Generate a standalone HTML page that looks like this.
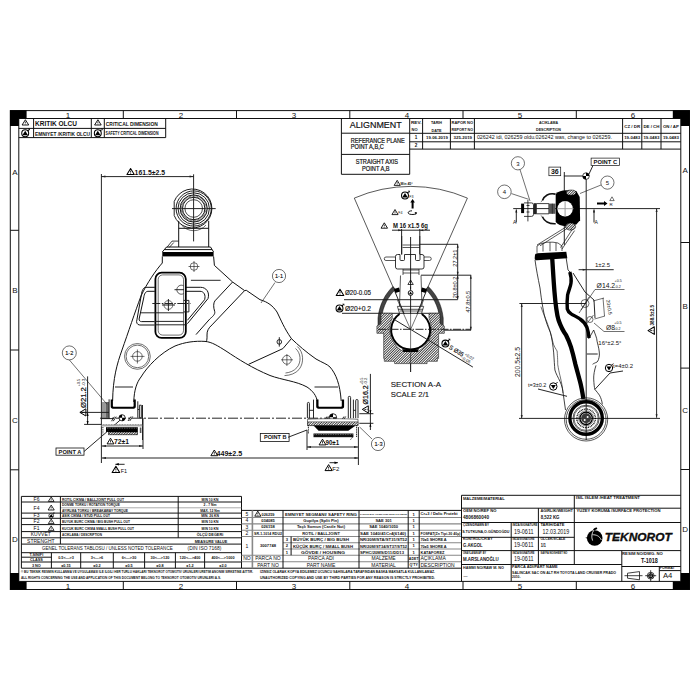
<!DOCTYPE html>
<html><head><meta charset="utf-8">
<style>
html,body{margin:0;padding:0;background:#fff;width:700px;height:700px;overflow:hidden}
svg{position:absolute;left:0;top:0;display:block}
text{font-family:"Liberation Sans",sans-serif;fill:#111}
.l,.t,.g{fill:none}
.l:not([stroke]){stroke:#111}.l:not([stroke-width]){stroke-width:1.0}
.t:not([stroke]){stroke:#1a1a1a}.t:not([stroke-width]){stroke-width:0.95}
.g:not([stroke]){stroke:#888}.g:not([stroke-width]){stroke-width:0.9}
.k{fill:#000}
</style></head><body>
<svg width="700" height="700" viewBox="0 0 700 700">
<defs>
<g id="saf"><circle r="3.3" fill="#fff" stroke="#000" stroke-width="1"/><path d="M-2.7,1.9L0,-2.5L2.7,1.9Z" fill="#000"/><path d="M2.2,-2.2L3.4,-3.4" stroke="#000" stroke-width="1.1"/><path d="M2.6,-4.6L4.6,-4.6L4.6,-2.6Z" fill="#000"/></g>
<g id="tri"><path d="M0,-6L-3.6,0H3.6Z" fill="none" stroke="#000" stroke-width="1" stroke-linejoin="round"/><path d="M0,-3.9V-2" stroke="#000" stroke-width="0.8"/><path d="M0,-1.4V-0.8" stroke="#000" stroke-width="0.8"/></g>
</defs>
<!-- FRAME -->
<g id="frame">
<rect x="10.3" y="110.6" width="679.2" height="478.9" class="l" stroke-width="1"/>
<rect x="18.8" y="118.5" width="662" height="462.9" class="l" stroke-width="1"/>
<path class="k" d="M10,110.3h16.6v8.2h-7.7v7.6h-8.9z"/>
<path class="k" d="M689.8,110.3h-17v8.2h8v7.6h9z"/>
<path class="k" d="M10,589.8h16.6v-8.4h-7.7v-8.5h-8.9z"/>
<path class="k" d="M689.8,589.8h-17v-8.4h8v-8.5h9z"/>
<path class="l" d="M123.3,110.6v7.9M236.5,110.6v7.9M349.8,110.6v7.9M463,110.6v7.9M576.3,110.6v7.9"/>
<path class="l" d="M123.3,581.4v8.1M236.5,581.4v8.1M349.8,581.4v8.1M463,581.4v8.1M576.3,581.4v8.1"/>
<path class="l" d="M10.3,230.3h8.5M10.3,350h8.5M10.3,469.8h8.5"/>
<path class="l" d="M680.8,242.5h8.7M680.8,368.1h8.7M680.8,469.5h8.7"/>
<g font-size="8" text-anchor="middle">
<text x="68" y="117.6">1</text><text x="181" y="117.6">2</text><text x="294" y="117.6">3</text>
<text x="407" y="117.6">4</text><text x="520" y="117.6">5</text><text x="633" y="117.6">6</text>
<text x="68" y="588.8">1</text><text x="181" y="588.8">2</text><text x="294" y="588.8">3</text>
<text x="407" y="588.8">4</text><text x="520" y="588.8">5</text><text x="633" y="588.8">6</text>
<text x="14.8" y="174.9">A</text><text x="14.8" y="292.9">B</text><text x="15" y="422.9">C</text><text x="14.8" y="541.9">D</text>
<text x="685.2" y="173.3">A</text><text x="685.2" y="308.9">B</text><text x="685.2" y="413.3">C</text><text x="685.2" y="532.4">D</text>
</g>
</g>

<!-- CRITICAL TABLE -->
<g id="crit">
<path class="l" d="M18.8,128.4H165.7M18.8,137.6H165.7M165.7,118.5V137.6M33.6,118.5V137.6M91.3,118.5V137.6M104.3,118.5V137.6"/>
<use href="#tri" transform="translate(25.4,125) scale(0.92,0.88)"/>
<use href="#tri" transform="translate(97.9,125) scale(0.92,0.88)"/>
<use href="#saf" transform="translate(25.2,133.3) scale(1.05)"/>
<use href="#saf" transform="translate(97.8,133.3) scale(1.05)"/>
<text x="35" y="125.6" font-size="6.6" font-weight="bold" textLength="42" lengthAdjust="spacingAndGlyphs">KRITIK OLCU</text>
<text x="35" y="135.6" font-size="5.8" font-weight="bold" textLength="55" lengthAdjust="spacingAndGlyphs">EMNIYET /KRITIK OLCU</text>
<text x="105.8" y="125.8" font-size="6" font-weight="bold" textLength="52" lengthAdjust="spacingAndGlyphs">CRITICAL DIMENSION</text>
<text x="105.5" y="135.4" font-size="5.4" font-weight="bold" textLength="53" lengthAdjust="spacingAndGlyphs">SAFETY CRITICAL DIMENSION</text>
</g>

<!-- ALIGNMENT -->
<g id="align">
<path class="l" d="M341.4,118.5V174.3H409.7V118.5M341.4,133.2H409.7M341.4,154.4H409.7"/>
<text x="349.7" y="128.3" font-size="9.9" textLength="52" lengthAdjust="spacingAndGlyphs" stroke="#111" stroke-width="0.2">ALIGNMENT</text>
<text x="350.8" y="142.6" font-size="6.4" textLength="54" lengthAdjust="spacingAndGlyphs" stroke="#111" stroke-width="0.2">REFERANCE PLANE</text>
<text x="350.8" y="149.2" font-size="6.4" textLength="33" lengthAdjust="spacingAndGlyphs" stroke="#111" stroke-width="0.2">POINT A,B,C</text>
<text x="355.7" y="163.7" font-size="6.4" textLength="42.4" lengthAdjust="spacingAndGlyphs" stroke="#111" stroke-width="0.2">STRAIGHT AXIS</text>
<text x="362.1" y="170.5" font-size="6.4" textLength="27.5" lengthAdjust="spacingAndGlyphs" stroke="#111" stroke-width="0.2">POINT  A,B</text>
</g>

<!-- REVISION TABLE -->
<g id="rev">
<path class="l" d="M409.7,133.3H680.8M409.7,141.8H680.8M409.7,149.1H680.8M422.6,118.5V149.1M450.4,118.5V149.1M474.4,118.5V149.1M622.6,118.5V149.1M641.8,118.5V149.1M661,118.5V149.1"/>
<g font-size="4" font-weight="bold" text-anchor="middle">
<text x="416.2" y="123.8" textLength="10.5" lengthAdjust="spacingAndGlyphs">REV.</text><text x="414.5" y="130.8">NO</text>
<text x="436.5" y="124.2" textLength="11" lengthAdjust="spacingAndGlyphs">TARIH</text><text x="436.5" y="131.6" textLength="10" lengthAdjust="spacingAndGlyphs">DATE</text>
<text x="462.3" y="123.8" textLength="21.5" lengthAdjust="spacingAndGlyphs">RAPOR NO</text><text x="462.3" y="130.8" textLength="21.5" lengthAdjust="spacingAndGlyphs">REPORT NO</text>
<text x="548.5" y="123.8" textLength="19" lengthAdjust="spacingAndGlyphs">ACIKLAMA</text><text x="548.5" y="130.8" textLength="25" lengthAdjust="spacingAndGlyphs">DESCRIPTION</text>
<text x="632.2" y="127.8" textLength="16" lengthAdjust="spacingAndGlyphs">CZ / DR</text><text x="651.4" y="127.8" textLength="16" lengthAdjust="spacingAndGlyphs">DE / CH</text><text x="670.9" y="127.8" textLength="16" lengthAdjust="spacingAndGlyphs">ON / AP</text>
<text x="416" y="138.6" font-size="4.6">1</text><text x="416" y="147.3" font-size="4.6">2</text>
<text x="437" y="138.6" textLength="21.8" lengthAdjust="spacingAndGlyphs">19.06.2019</text><text x="462.8" y="138.6" textLength="18.5" lengthAdjust="spacingAndGlyphs">325-2019</text>
<text x="632.2" y="138.8" textLength="16" lengthAdjust="spacingAndGlyphs">19-0483</text><text x="651.4" y="138.8" textLength="16" lengthAdjust="spacingAndGlyphs">19-0483</text><text x="670.9" y="138.8" textLength="16" lengthAdjust="spacingAndGlyphs">19-0483</text>
</g>
<text x="476.9" y="139.3" font-size="5" textLength="135" lengthAdjust="spacingAndGlyphs">026242 idi, 026259 oldu.026242 was, change to 026259.</text>
</g>

<!-- STRENGTH TABLE -->
<g id="str">
<path class="l" d="M21.4,496.4H241.5V568.2M21.4,496.4V568.2H241.5"/>
<path class="l" d="M21.4,502H241.5M21.4,513.1H241.5M21.4,518.3H241.5M21.4,524.6H241.5M21.4,531.6H241.5M21.4,537.8H241.5M21.4,544.1H241.5M21.4,552.7H241.5M21.4,562H241.5"/>
<path class="g" stroke-width="0.7" d="M60.4,507.8H241.5"/>
<path class="l" d="M60.4,496.4V544.1M178.2,496.4V537.8M21.4,557.2H51.4M51.4,552.7V568.2M80.7,552.7V568.2M113.3,552.7V568.2M144.6,552.7V568.2M175.4,552.7V568.2M204.6,552.7V568.2"/>
<g font-size="5" text-anchor="middle">
<text x="36.5" y="501.3">F6</text><text x="36.5" y="509.5">F4</text><text x="36.5" y="517.4">F3</text>
<text x="36.5" y="523.2">F2</text><text x="36.5" y="530">F1</text>
<text x="40.8" y="536.4">KUVVET</text><text x="40.8" y="542.6">STRENGHT</text>
</g>
<g class="l" stroke-width="1.1">

</g>
<use href="#saf" transform="translate(51.2,515.7) scale(0.72)"/>
<use href="#tri" transform="translate(51.2,501.4) scale(0.8,0.75)"/>
<use href="#tri" transform="translate(51.2,510) scale(0.85,0.82)"/>
<use href="#tri" transform="translate(51.2,523.6) scale(0.8,0.75)"/>
<use href="#tri" transform="translate(51.2,530.4) scale(0.8,0.75)"/>
<g font-size="3.4" font-weight="bold">
<text x="62" y="500.8" textLength="62" lengthAdjust="spacingAndGlyphs">ROTIL CIKMA / BALLJOINT PULL OUT</text>
<text x="62" y="506.3" textLength="58" lengthAdjust="spacingAndGlyphs">DONME TORKU / ROTATION TORQUE</text>
<text x="62" y="511.8" textLength="66" lengthAdjust="spacingAndGlyphs">AYIRLMA TORKU / BREAKAWAY TORQUE</text>
<text x="62" y="516.9" textLength="48" lengthAdjust="spacingAndGlyphs">ASIK CIKMA / STUD PULL OUT</text>
<text x="62" y="522.7" textLength="68" lengthAdjust="spacingAndGlyphs">BUYUK BURC CIKMA / BIG BUSH PULL OUT</text>
<text x="62" y="529.6" textLength="72" lengthAdjust="spacingAndGlyphs">KUCUK BURC CIKMA SMALL BUSH PULL OUT</text>
<text x="62" y="536" textLength="40" lengthAdjust="spacingAndGlyphs">ACIKLAMA / DESCRIPTION</text>
</g>
<g font-size="3.4" font-weight="bold" text-anchor="middle">
<text x="210" y="500.8">MIN 10 KN</text><text x="210" y="506.3">2 - 7 Nm</text><text x="210" y="511.8">MAX. 12 Nm</text>
<text x="210" y="516.9">MIN. 26 KN</text><text x="210" y="522.7">MIN 10 KN</text><text x="210" y="529.6">MIN 10 KN</text>
<text x="210" y="536.2" font-size="3.8">ÖLÇÜ DEĞERİ</text><text x="211" y="542.6" font-size="3.8">MEASURE VALUE</text>
</g>
<text x="42" y="550.2" font-size="5.6" textLength="130.7" lengthAdjust="spacingAndGlyphs">GENEL TOLERANS TABLOSU / UNLESS NOTED TOLERANCE</text>
<text x="187.5" y="550.2" font-size="5.6" textLength="34" lengthAdjust="spacingAndGlyphs">(DIN ISO 7168)</text>
<g font-size="3.8" font-weight="bold" text-anchor="middle">
<text x="36.4" y="556">T.SINIFI</text><text x="36.4" y="561">CLASS</text><text x="36.4" y="566.8">3 NO</text>
<text x="66" y="558.7">0.5&lt;—&gt;3</text><text x="97" y="558.7">3&lt;—&gt;6</text><text x="129" y="558.7">6&lt;—&gt;30</text>
<text x="160" y="558.7">30&lt;—&gt;120</text><text x="190" y="558.7">120&lt;—&gt;400</text><text x="223" y="558.7">400&lt;—&gt;1000</text>
<text x="66" y="566.8">±0.15</text><text x="97" y="566.8">±0.2</text><text x="129" y="566.8">±0.5</text>
<text x="160" y="566.8">±0.8</text><text x="190" y="566.8">±1.2</text><text x="223" y="566.8">±2.0</text>
</g>
<text x="21" y="573.3" font-size="3.3" font-weight="bold" textLength="232" lengthAdjust="spacingAndGlyphs">© BU TEKNIK RESMIN KULLANMA VE UYGULAMASI ILE ILGILI HER TURLU HAKLARI TEKNOROT OTOMOTIV URUNLERI URETIM ANONIM SIRKETINE AITTIR.</text>
<text x="21" y="578.9" font-size="3.3" font-weight="bold" textLength="200" lengthAdjust="spacingAndGlyphs">ALL RIGHTS CONCERNING THE USE AND APPLICATION OF THIS DOCUMENT BELONG TO TEKNOROT OTOMOTIV URUNLERI A.S.</text>
<text x="260" y="573.3" font-size="3.3" font-weight="bold" textLength="175" lengthAdjust="spacingAndGlyphs">IZINSIZ OLARAK KOPYA EDILEMEZ UCUNCU SAHISLARA TARAFINDAN BASKA MAKSATLA KULLANILAMAZ.</text>
<text x="260" y="578.9" font-size="3.3" font-weight="bold" textLength="175" lengthAdjust="spacingAndGlyphs">UNAUTHORIZED COPYING AND USE BY THIRD PARTIES FOR ANY REASON IS STRICTLY PROHIBITED.</text>
</g>
<!-- PARTS LIST -->
<g id="parts">
<path class="l" d="M241.5,510.4H461.5M241.5,568.2H461.5"/>
<path class="g" stroke-width="1.1" d="M241.5,517.5H461.5M241.5,523.9H461.5M241.5,530.2H461.5M241.5,536.5H461.5M283,542.8H461.5M283,549H461.5M241.5,555.2H461.5M241.5,561.7H461.5"/>
<path class="g" stroke-width="1.6" d="M252.4,510.4V568.2"/><path class="l" d="M283,510.4V555.2M291.1,536.5V555.2M359,510.4V568.2M408.2,510.4V568.2M419.2,510.4V568.2M283,555.2V568.2"/>
<g font-size="4.1" font-weight="bold" text-anchor="middle">
<text x="247" y="516" font-weight="normal" font-size="5">5</text><text x="247" y="522.4" font-weight="normal" font-size="5">4</text><text x="247" y="528.8" font-weight="normal" font-size="5">3</text><text x="247" y="535.1" font-weight="normal" font-size="5">2</text>
<text x="247" y="547.8" font-weight="normal" font-size="5">1</text><text x="247" y="560.4" font-weight="normal" font-size="5">NO</text>
<text x="268" y="515.5" textLength="13" lengthAdjust="spacingAndGlyphs">026259</text><text x="268" y="521.9">034085</text><text x="268" y="528.3">026158</text>
<text x="268" y="534.6" textLength="28" lengthAdjust="spacingAndGlyphs">SR-1-1014 RDU2</text>
<text x="268" y="547.4">3007748</text><text x="268" y="560.4" font-weight="normal" font-size="5">PARCA NO</text><text x="268" y="566.6" font-weight="normal" font-size="5">PART NO</text>
<text x="321" y="515.5" textLength="72" lengthAdjust="spacingAndGlyphs">EMNIYET SEGMANI/  SAFETY RING</text>
<text x="321" y="521.9">Gupilya (Split Pin)</text><text x="321" y="528.3">Taçlı Somun (Castle Nut)</text>
<text x="321" y="534.9" font-size="4">ROTIL / BALLJOINT</text>
<text x="287" y="541">3</text><text x="287" y="547.4">2</text><text x="287" y="553.6">1</text>
<text x="321" y="560.4" font-weight="normal" font-size="5">PARCA ADI</text><text x="321" y="566.6" font-weight="normal" font-size="5">PART NAME</text>
<text x="383.6" y="521.9">SAE 301</text><text x="383.6" y="528.3">SAE 1040/1050</text>
<text x="383.6" y="560.4" font-weight="normal" font-size="5">MALZEME</text><text x="383.6" y="566.6" font-weight="normal" font-size="5">MATERIAL</text>
<text x="413.7" y="515.5">1</text><text x="413.7" y="521.9">1</text><text x="413.7" y="528.3">1</text><text x="413.7" y="534.6">1</text>
<text x="413.7" y="541">1</text><text x="413.7" y="547.4">1</text><text x="413.7" y="553.6">1</text>
<text x="413.7" y="560" font-size="3.6">ADET</text><text x="413.7" y="566.4" font-size="3.6">Q'TY</text>
</g>
<use href="#tri" transform="translate(257.8,516.2) scale(0.85)"/>
<g font-size="3.9" font-weight="bold">
<text x="293" y="541.2" textLength="56" lengthAdjust="spacingAndGlyphs">BÜYÜK BURÇ /  BIG BUSH</text>
<text x="293" y="547.5" textLength="60" lengthAdjust="spacingAndGlyphs">KÜÇÜK BURÇ /  SMALL BUSH</text>
<text x="301" y="553.7" textLength="44" lengthAdjust="spacingAndGlyphs">GÖVDE / HOUSING</text>
<text x="360" y="515.2" font-size="2" textLength="47" lengthAdjust="spacingAndGlyphs">SAE1070 BHN 470-520 Cr/Zn 60000 Cr0.3 80000</text>
<text x="360" y="534.9" textLength="46" lengthAdjust="spacingAndGlyphs">SAE 1040/41Cr4(6140)</text>
<text x="360" y="541.2" textLength="47" lengthAdjust="spacingAndGlyphs">NR/20M/STA/ST31/ST52</text>
<text x="360" y="547.5" textLength="47" lengthAdjust="spacingAndGlyphs">NR/20M/ST34/ST37/ST52</text>
<text x="360" y="553.7" textLength="44" lengthAdjust="spacingAndGlyphs">SPHC/20MS/D11/DD13</text>
<text x="420.5" y="515.3" textLength="37" lengthAdjust="spacingAndGlyphs">Cr+3 / Dalic Protekt</text>
<text x="420.5" y="534.6" font-size="2.8" textLength="40" lengthAdjust="spacingAndGlyphs">FOSFAT(Zn Tipi-30 40µ)</text>
<text x="420.5" y="541.2" textLength="26">70±5 SHORE A</text>
<text x="420.5" y="547.5" textLength="26">70±5 SHORE A</text>
<text x="420.5" y="553.7" textLength="24">KATAFOREZ</text>
<text x="420.5" y="560.4" font-weight="normal" font-size="5">AÇIKLAMA</text>
<text x="420.5" y="566.6" font-weight="normal" font-size="5">DESCRIPTION</text>
</g>
</g>

<!-- TITLE BLOCK -->
<g id="title">
<path class="l" d="M461.5,495.3H680.8M461.5,495.3V581.4M461.5,508.2H680.8M461.5,522.5H680.8M461.5,537.3H574.3M461.5,550.6H680.8M461.5,564.5H621.8M621.8,566.5H680.8"/>
<path class="l" d="M574.3,495.3V564.5M538.4,508.2V564.5M511.2,522.5V581.4M621.8,550.6V581.4M659.3,566.5V581.4M659.3,570.6H680.8"/>
<g font-size="3.7" font-weight="bold">
<text x="463" y="499.6" textLength="41.6" lengthAdjust="spacingAndGlyphs">MALZEME/MATERIAL</text>
<text x="575.7" y="499.4" textLength="64.3" lengthAdjust="spacingAndGlyphs">ISIL ISLEM /HEAT TREATMENT</text>
<text x="463" y="512.4" textLength="33.4" lengthAdjust="spacingAndGlyphs">OEM NO/REF NO</text>
<text x="540.4" y="512.4" textLength="32.5" lengthAdjust="spacingAndGlyphs">AGIRLIK/WEIGHT</text>
<text x="576.5" y="512.4" textLength="84" lengthAdjust="spacingAndGlyphs">YUZEY KORUMA /SURFACE PROTECTION</text>
<text x="463" y="526.1" textLength="26" lengthAdjust="spacingAndGlyphs">ÇIZEN/DRAWN BY</text>
<text x="512.5" y="526.1" font-size="3.3" textLength="25" lengthAdjust="spacingAndGlyphs">IMZA/SIGNATURE</text>
<text x="540.4" y="526.1" textLength="24" lengthAdjust="spacingAndGlyphs">TARIH/DATE</text>
<text x="463" y="540.2" textLength="29.5" lengthAdjust="spacingAndGlyphs">KONTROL/CH.BY</text>
<text x="512.5" y="540.2" font-size="3.3" textLength="22" lengthAdjust="spacingAndGlyphs">IMZA/SIGNATURE</text>
<text x="540.4" y="540.2" textLength="25" lengthAdjust="spacingAndGlyphs">OLCEK/SCALE</text>
<text x="463" y="554" textLength="23" lengthAdjust="spacingAndGlyphs">ONAYLAYAN/AP. BY</text>
<text x="512.5" y="554" font-size="3.3" textLength="22" lengthAdjust="spacingAndGlyphs">IMZA/SIGNATURE</text>
<text x="540.4" y="554" font-size="3.3" textLength="27" lengthAdjust="spacingAndGlyphs">SAYFA NO/SHEET NO</text>
<text x="463" y="568.6" textLength="41" lengthAdjust="spacingAndGlyphs">HAMMI NO/RAW M. NO</text>
<text x="512.1" y="568.2" textLength="45.6" lengthAdjust="spacingAndGlyphs">PARCA ADI/PART NAME</text>
<text x="622.1" y="554.7" textLength="40.8" lengthAdjust="spacingAndGlyphs">RESIM NO/DWG. NO</text>
<text x="659.8" y="568.7" font-size="3" textLength="15" lengthAdjust="spacingAndGlyphs">FORMAT</text>
<text x="512.1" y="574" font-size="3.5" textLength="104" lengthAdjust="spacingAndGlyphs">SALINCAK SAC ÖN ALT RH TOYOTA LAND CRUISER PRADO</text>
<text x="512.1" y="578.2" font-size="3.3">2010-</text>
</g>
<g font-size="4.8" font-weight="bold">
<text x="463" y="518.7" textLength="26" lengthAdjust="spacingAndGlyphs">4806860040</text>
<text x="540.7" y="519" textLength="18.8" lengthAdjust="spacingAndGlyphs">8,522 KG</text>
<text x="462.2" y="533" font-size="3.8" textLength="47.3" lengthAdjust="spacingAndGlyphs">S.TUTKUNA,O.GÜNDOĞDU</text>
<text x="463" y="546.9" font-size="5.2" textLength="19.7" lengthAdjust="spacingAndGlyphs">G.AKGOL</text>
<text x="463" y="560.6" font-size="5.2" textLength="35.7" lengthAdjust="spacingAndGlyphs">M.ARSLANOĞLU</text>
<text x="540.7" y="546.9" font-size="4.6" textLength="5.3" lengthAdjust="spacingAndGlyphs">1/1</text>
<text x="463.5" y="577.3" font-size="4">—</text>
</g>
<g font-size="6.6">
<text x="513.9" y="533.6" textLength="19.7" lengthAdjust="spacingAndGlyphs">19-0611</text><text x="513.9" y="547.4" textLength="19.7" lengthAdjust="spacingAndGlyphs">19-0611</text><text x="513.9" y="561.4" textLength="19.7" lengthAdjust="spacingAndGlyphs">19-0611</text>
<text x="542.5" y="533.6" textLength="26.8" lengthAdjust="spacingAndGlyphs">12.03.2019</text>
</g>
<text x="640.9" y="562.9" font-size="6.4" font-weight="bold" textLength="17" lengthAdjust="spacingAndGlyphs">T-1018</text>
<text x="662.9" y="578.3" font-size="8" textLength="9.4" lengthAdjust="spacingAndGlyphs">A4</text>
<!-- projection symbol -->
<g class="l" stroke-width="0.8">
<path d="M624.5,575.7h18M627.5,573.2l12,-1.6v8.2l-12,-1.6z"/>
<circle cx="650.7" cy="575.7" r="3.4"/><circle cx="650.7" cy="575.7" r="1.9" stroke-width="1.2"/>
<path d="M645.2,575.7h11M650.7,570.2v11"/>
</g>
<!-- logo -->
<g>
<circle cx="594.7" cy="538" r="7.8" fill="#000"/>
<path d="M592.5,531.5C593,529 594.5,527.6 596.9,527.6L597.3,529C595.5,529.3 594.5,530.5 594.3,532Z" fill="#000"/>
<path d="M586.9,537.3L585.3,537.8L586.9,538.4Z" fill="#000"/>
<path d="M594,530C591.6,533 591.2,537 592.6,540.6M592.3,534.8C596,534.5 599.6,536 601.3,540" stroke="#fff" stroke-width="0.8" fill="none"/>
<text x="604.8" y="540.5" font-size="10.6" font-weight="bold" font-style="italic" textLength="67" lengthAdjust="spacingAndGlyphs" stroke="#000" stroke-width="0.3">TEKNOROT</text>
</g>
</g>
<!-- LEFT VIEW: CONTROL ARM -->
<g id="arm">
<!-- dimension 161.5 -->
<path class="t" d="M101.4,174V463M101.4,176.6H193.6M193.6,174.3V241.4M172,208.6H215.7"/>
<path d="M101.4,176.6l4,-1v2z M193.6,176.6l-4,-1v2z" fill="#222"/>
<use href="#tri" transform="translate(130.6,174.6) scale(1.02)"/>
<text x="134.6" y="174.6" font-size="6.8" font-weight="bold" textLength="30.4" lengthAdjust="spacingAndGlyphs">161.5±2.5</text>
<!-- ball joint -->
<g class="l" stroke-width="0.95">
<path d="M174.2,201.5A19.5,19.5 0 1 1 174.2,215.5Z"/>
<circle cx="193.7" cy="208.5" r="17.6"/>
<circle cx="193.7" cy="208.5" r="15.7"/>
<circle cx="193.7" cy="208.5" r="12.4" stroke="#666" stroke-width="2.2" stroke-dasharray="0.8,0.6"/>
<circle cx="193.7" cy="208.5" r="13.6"/>
<circle cx="193.7" cy="208.5" r="11.2"/>
<circle cx="193.7" cy="208.5" r="8.8" stroke-width="0.75"/>
<path d="M181.5,225A16,16 0 0 0 206,225" stroke-width="0.6"/>
</g>
<!-- neck and plate -->
<path class="l" d="M178.7,220.9V247M208.7,220.9V247M178.7,228.3H208.7M166.5,247H210.5M164.5,249.6H212M166.5,247l-4.2,5M210.5,247l3.1,5"/>
<path class="l" stroke-width="0.8" d="M166.8,247.5l5.2,-6.4h6.5M169.2,247.5l4.6,-5"/>
<rect x="162.3" y="252" width="51.3" height="4.4" fill="#000"/>
<!-- arm outline -->
<path class="l" d="M162.3,256.4V263C156,270 147,283 141,296C135,312 128,333 122,350C117,364 113,378 112.6,401"/>
<path class="l" d="M213.6,256.4L214.4,265.4L232.6,282L244.6,290.6L246.3,290.3L260,299.7C268,302 273,306 277,312C281,320 284,328 291.4,338.6C298,345 306,352 316,359C322,362.5 327,364 330,367C336,374 340,384 341.2,401"/>
<path class="l" d="M133.8,402C134,390 137,382 141,377C147,367 160,353 175,346C185,342 195,340.8 205,341.4C212,342 218,346 226,351C238,359 252,368 270,375.5C282,380 296,381 307,387C313,391 316.5,396 317.2,401"/>
<!-- sleeve lines -->
<path class="l" d="M232.6,282L214.9,300.9C213.4,303 213.2,307 214.7,311.5C215.5,314.5 212,317 209.7,319.1L196,334.6"/>
<path class="l" d="M244.6,290.6L212,324.9C208.5,328 206.8,331 207,335C207.2,338 206.8,340.5 206.3,342"/>
<path class="l" d="M248.6,364.3L282.9,348.6L291.4,338.6"/>
<path class="t" d="M190.9,280.3H220.6"/>
<!-- U loop -->
<path class="l" d="M154.6,287.3H200.6C206,287.3 210,292 208,298.6L187.4,323.7M154.6,325H139.8C137,325 136,322 136.9,319.9L141.4,294.7C142,291 143,287.3 146,287.3H154.6"/>
<path class="l" d="M154.6,291.3H200C203.8,291.3 206,295 204.6,299.7L187.4,320.3M154.6,321.6H141.5C140,321.6 139,320.5 139.1,319L143.7,298C144.2,294 145.5,291.3 148,291.3H154.6"/>
<!-- rounded rect -->
<rect x="155.4" y="272.7" width="30.4" height="65.2" rx="6.2" fill="#fff" stroke="#000" stroke-width="1.8"/>
<path class="t" d="M152.3,303.5H190.5" stroke-dasharray="8,1.5,1.5,1.5"/><path class="t" d="M141,312.8H183.5M155,321.4H183.5M155,324.8H187"/>
<rect x="158.2" y="274.9" width="25.3" height="60.2" rx="4.5" class="l" stroke-width="0.6"/>
<path class="t" d="M183.7,300.4h5.2v11.5h-5.2"/>
<circle cx="168.4" cy="305" r="4.4" class="l" stroke-width="0.6"/>
<path class="t" d="M162,305h13M168.4,299v12"/>
<path class="l" stroke-width="0.7" d="M183.6,285.8A4.5,4.5 0 1 0 183.6,293.6"/>
<path class="t" d="M174.5,289.7h9.5"/>
<!-- symbols on arm -->
<g class="l" stroke-width="0.6">
<circle cx="194" cy="266.5" r="3.8"/><path d="M188.5,266.5h11M194,261v11"/>
<circle cx="137.4" cy="356.4" r="12.9"/><circle cx="137.4" cy="356.4" r="11.3"/>
<circle cx="137.4" cy="356.4" r="4.8"/><path d="M130.5,356.4h14M137.4,349.5v14"/>
<circle cx="286.9" cy="359.8" r="4.4"/><path d="M281,359.8h12M286.9,354v12"/>
<path d="M295.5,348.5C301,353 301.5,362 297,367.5C294,371 290,372.5 285.5,373"/>
<path d="M297.3,346.5C303.8,352 304.3,363 299,369.5C295.5,373.5 290.5,375.3 284.5,375.6"/>
<circle cx="279.3" cy="341.9" r="2.3" stroke-width="0.9"/><path d="M279.3,337.2v9.4" stroke-width="0.9"/>
</g>
<path class="t" d="M115,387H133M314.5,387H338"/>
<!-- left bushing (point A) -->
<path d="M110.7,399.5v7c0,1.3 0.9,2.2 2.2,2.2h20.7c1.3,0 2.2,-0.9 2.2,-2.2v-7h-2.2v6.2c0,0.6 -0.4,1 -1,1h-18.7c-0.6,0 -1,-0.4 -1,-1v-6.2z" fill="#000"/>
<rect x="102" y="402" width="3.7" height="15.8" fill="#999"/>
<rect x="105.7" y="402" width="3.3" height="15.8" fill="#666"/>
<path class="t" d="M109.1,399.3V417.8M137.8,401.3V417.8M139.4,405.2h1.9v12.6h-1.9zM142.5,405V440M137.8,409.5H139.4M101.4,418.6H113"/>
<path class="t" d="M100,418.2H330" stroke-dasharray="10,2,2,2"/>
<circle cx="122.1" cy="417.8" r="3.1" fill="#fff" stroke="#000" stroke-width="0.8"/>
<path d="M122.1,417.8V414.7A3.1,3.1 0 0 0 119,417.8ZM122.1,417.8V420.9A3.1,3.1 0 0 0 125.2,417.8Z" fill="#000"/>
<path class="t" d="M120,420.2L113.9,425.6"/>
<path class="t" d="M111.5,421.2l3,-4.5M113.2,421.2l3,-4.5M128,421l3,-4.5M129.7,421l3,-4.5"/>
<rect x="101.4" y="424.6" width="41.1" height="1.9" fill="#aaa"/>
<path d="M101.4,424.6H142.5" stroke="#333" stroke-width="0.5" stroke-dasharray="0.8,0.8"/>
<rect x="106" y="427.2" width="31.8" height="4.8" fill="#000"/>
<path d="M107,428.2H137" stroke="#ccc" stroke-width="0.6" stroke-dasharray="0.7,1"/>
<rect x="108.7" y="432" width="28.7" height="2.8" fill="url(#hatch)" stroke="#000" stroke-width="0.6"/>
<path class="t" d="M102.9,427V434.5" stroke-dasharray="1,0.8"/>
<rect x="139.8" y="427.5" width="1.6" height="5.5" fill="#555"/>
<!-- right bushing (point B) -->
<path d="M316.2,399.5v7c0,1.3 0.9,2.2 2.2,2.2h23.5c1.3,0 2.2,-0.9 2.2,-2.2v-7h-2.3v6.2c0,0.6 -0.4,1 -1,1h-21.3c-0.6,0 -1,-0.4 -1,-1v-6.2z" fill="#000"/>
<path class="t" d="M307.4,418.2V403.4a1,1 0 0 1 1,-1h0a1,1 0 0 1 1,1V418.2M313.5,399.6V418.2M348.3,418.2V397.4a1,1 0 0 1 1.15,-1h0a1,1 0 0 1 1.15,1V418.2M353.4,399.6V418.2M355.7,418.2V400.6a1,1 0 0 1 1.15,-1h0a1,1 0 0 1 1.15,1V418.2M309.3,410.3H313.5M353.4,410.3H355.7"/>
<circle cx="333" cy="417.3" r="3.6" fill="#fff" stroke="#000" stroke-width="0.8"/>
<path d="M333,417.3V413.7A3.6,3.6 0 0 0 329.4,417.3ZM333,417.3V420.9A3.6,3.6 0 0 0 336.6,417.3Z" fill="#000"/>
<path class="t" d="M324,421l3,-4.5M325.7,421l3,-4.5M341,421l3,-4.5M342.7,421l3,-4.5"/>
<path d="M307.5,419.3C318,418.5 346,418.5 358,419.3V425.6H307.5Z" fill="#fff" stroke="#222" stroke-width="0.6"/>
<rect x="307.5" y="421.9" width="50.5" height="3.7" fill="url(#hatch)" stroke="#222" stroke-width="0.5"/>
<path d="M313.5,425.6H355.7L348.3,430.7H318.6Z" fill="#000"/>
<rect x="313.5" y="433.5" width="39.9" height="3.7" fill="#111"/>
<path d="M314.5,434.5H352.5" stroke="#ccc" stroke-width="0.6" stroke-dasharray="0.7,1"/>
<path class="t" d="M352.5,437.2l-2,2.5M308.4,425V434M356.6,425V437" stroke-dasharray="1.2,0.6"/>
<!-- dims bottom -->
<path class="t" d="M102,446H143M143,418V449M102,458H358.4M307,430V450M358.4,427V465M307,447H358"/>
<path d="M102,446l4,-1v2zM143,446l-4,-1v2zM102,458l4,-1v2zM358.4,458l-4,-1v2zM307,447l4,-1v2zM358,447l-4,-1v2z" fill="#222"/>
<use href="#tri" transform="translate(110.5,443.9) scale(0.95)"/>
<use href="#tri" transform="translate(214.3,455.7) scale(0.95)"/>
<use href="#tri" transform="translate(322.5,444.9) scale(0.95)"/>
<use href="#tri" transform="translate(115.9,472.5) scale(1.05)"/>
<use href="#tri" transform="translate(328.6,470.6) scale(1.0)"/>
<g font-weight="bold">
<text x="114" y="443.9" font-size="6.4" textLength="14.9" lengthAdjust="spacingAndGlyphs">72±1</text>
<text x="216.5" y="455.7" font-size="7" textLength="25.6" lengthAdjust="spacingAndGlyphs">449±2.5</text>
<text x="325.5" y="444.9" font-size="6.4" textLength="13.7" lengthAdjust="spacingAndGlyphs">90±1</text>
</g>
<text x="120.7" y="472.5" font-size="5.6" textLength="6.4" lengthAdjust="spacingAndGlyphs">F1</text>
<text x="332.3" y="470.6" font-size="5" textLength="7" lengthAdjust="spacingAndGlyphs">F2</text>
<path class="t" d="M115.4,464.3h9.2M329.5,462.7h8.4"/>
<path d="M115.4,464.3l3.4,-1.2v2.4z M337.9,462.7l-3.4,-1.2v2.4z" fill="#000"/>
<!-- point boxes -->
<rect x="56" y="448" width="28" height="7.2" class="l" stroke-width="0.8"/>
<text x="58.6" y="453.6" font-size="5.2" font-weight="bold" textLength="22.8" lengthAdjust="spacingAndGlyphs">POINT A</text>
<path class="t" d="M84,451.5L109,430"/>
<rect x="260.3" y="433.5" width="28.8" height="8" class="l" stroke-width="0.8"/>
<text x="264" y="439.3" font-size="5.3" font-weight="bold" textLength="22.5" lengthAdjust="spacingAndGlyphs">POINT B</text>
<path class="t" d="M288,437.3L307,430"/>
<!-- ø21.2 dim -->
<path class="t" d="M87.6,376.4V424.4M79.9,412.4H109M84.1,424.4H101.4"/>
<path d="M87.6,412.4l-1,3.5h2z M87.6,424.4l-1,-3.5h2z" fill="#000"/>
<g transform="translate(85.9,408.1) rotate(-90)">
<use href="#tri" transform="translate(-4.3,0)"/>
<text x="0" y="0" font-size="7.4" textLength="21" lengthAdjust="spacingAndGlyphs" stroke="#000" stroke-width="0.2">Ø21.2</text>
<text x="21.8" y="-6" font-size="3.6" textLength="7.5" lengthAdjust="spacingAndGlyphs">+0.5</text><text x="21.8" y="-1.2" font-size="3.6" textLength="7.5" lengthAdjust="spacingAndGlyphs">-0.3</text>
</g>
<!-- ø16.2 dim -->
<path class="t" d="M370.4,373.9V430M359.3,413.7H373.4M359.3,423.3H373.4"/>
<path d="M370.4,413.7l-1,-3.5h2z M370.4,423.3l-1,3.5h2z" fill="#000"/>
<g transform="translate(368.3,404.4) rotate(-90)">
<use href="#tri" transform="translate(-5,0)"/>
<text x="0" y="0" font-size="6.8" textLength="19" lengthAdjust="spacingAndGlyphs" stroke="#000" stroke-width="0.2">Ø16.2</text>
<text x="19.5" y="-5.8" font-size="3.4" textLength="7.3" lengthAdjust="spacingAndGlyphs">+0.5</text><text x="19.5" y="-1.2" font-size="3.4" textLength="7.3" lengthAdjust="spacingAndGlyphs">-0.2</text>
</g>
<!-- balloons -->
<g class="l" stroke-width="0.6">
<circle cx="69.3" cy="352.9" r="7"/><path d="M69.3,359.9L107,404.3"/>
<circle cx="279" cy="276" r="6.6"/><path d="M275,282.5L261,303"/>
<circle cx="378" cy="444" r="6.6"/><path d="M359.6,427L372,439"/>
</g>
<g font-size="5.6" text-anchor="middle" stroke="#000" stroke-width="0.12">
<text x="69.3" y="354.9">1-2</text><text x="279" y="277.8">1-1</text><text x="378.5" y="445.8">1-3</text>
</g>
</g>
<!-- SECTION A-A -->
<defs>
<pattern id="hatch" width="1.8" height="1.8" patternUnits="userSpaceOnUse" patternTransform="rotate(45)">
<rect width="1.8" height="1.8" fill="#fff"/><rect width="0.8" height="1.8" fill="#222"/>
</pattern>
<pattern id="hatch2" width="2.2" height="2.2" patternUnits="userSpaceOnUse" patternTransform="rotate(-45)">
<rect width="2.2" height="2.2" fill="#fff"/><rect width="0.8" height="2.2" fill="#333"/>
</pattern>
</defs>
<g id="secAA">
<!-- cone and arc -->
<path class="l" stroke-width="0.7" d="M354.3,198.1A142.5,142.5 0 0 1 467.4,198.1"/>
<path class="l" stroke-width="0.7" d="M354.3,198.1L393,287M467.4,198.1L428,287"/>
<path class="t" d="M393,287L410.6,329.3L428,287"/>
<!-- top symbols -->
<use href="#tri" transform="translate(397.2,185.4) scale(0.85)"/>
<text x="400.6" y="185.3" font-size="3.8" font-weight="bold" textLength="12" lengthAdjust="spacingAndGlyphs">Min 45°</text>
<use href="#saf" transform="translate(405,195.5) scale(1.05)"/>
<text x="409.3" y="197.6" font-size="3.6">F3</text>
<path d="M411.6,208.4V202.5h-1.3l2.3,-3.6l2.3,3.6h-1.3V208.4z" fill="#000"/>
<use href="#tri" transform="translate(395,214.6) scale(0.85)"/>
<text x="398.2" y="214.4" font-size="3.6">F4</text>
<path class="l" stroke-width="1" d="M412,210.8c-4,0 -5,2.5 -2.5,3.3c2,0.6 5,0.6 7,-0.5"/>
<path d="M417.2,212.4l-2.6,-0.5l1.2,2.6z" fill="#000"/>
<use href="#tri" transform="translate(384.3,228.2) scale(0.9)"/>
<text x="392.9" y="227.6" font-size="6.6" font-weight="bold" textLength="35" lengthAdjust="spacingAndGlyphs">M 16 x1.5 6g</text>
<path class="t" d="M392,230.2H430M401.6,229V254.5M419.8,229V254.5"/>
<path d="M401.6,230.2l-3.5,-1v2zM419.8,230.2l3.5,-1v2z" fill="#222"/>
<!-- stud -->
<path class="l" stroke-width="0.7" d="M401.8,236V254.5M419.8,236V254.5M402.5,245H420M402.5,247.5H420"/>
<path class="t" d="M420,244.3H458M410.6,237V372" stroke-dasharray="none"/>
<!-- castle nut -->
<path class="l" stroke-width="0.85" d="M395.5,256.5a2,2 0 0 1 2,-2h2.5v5a1,1 0 0 0 1,1h2.5a1,1 0 0 0 1,-1v-5h11v5a1,1 0 0 0 1,1h2.5a1,1 0 0 0 1,-1v-5h2a2,2 0 0 1 2,2v10.5a2,2 0 0 1 -2,2h-24.5a2,2 0 0 1 -2,-2z"/>
<path class="l" stroke-width="0.7" d="M395.5,257h-9.5a1.7,1.7 0 0 0 0,3.5h9.5M424,257h5.5a1.7,1.7 0 0 1 0,3.5h-5.5"/>
<path class="l" stroke-width="0.7" d="M403,269v6M419,269v6M403,270H419M403,273H419"/>
<path class="l" stroke-width="0.7" d="M400.5,275.5L399.5,306M421,275.5L422,306"/>
<path class="t" d="M421,275.2H471.2"/>
<use href="#tri" transform="translate(410.6,284.5) rotate(0) scale(0.75)"/>
<path d="M410.6,286.5V289" stroke="#000" stroke-width="0.6"/>
<circle cx="410.6" cy="293" r="2.4" fill="#fff" stroke="#000" stroke-width="0.9"/>
<path d="M409,294.2l1.6,-2.8l1.6,2.8z" fill="#000"/>
<!-- boot -->
<path d="M393,286.5C385.5,293.5 379.5,304 378,318L378,332L381.5,332L381.5,318C383,305.5 388.5,296 395.5,289.5Z" fill="#444" stroke="#000" stroke-width="0.5"/>
<path d="M428.2,286.5C435.7,293.5 441.7,304 443.2,318L443.2,332L439.7,332L439.7,318C438.2,305.5 432.7,296 425.7,289.5Z" fill="#444" stroke="#000" stroke-width="0.5"/>
<path d="M394,289l5,-1.5l1,4l-4.5,1.5z M427,289l-5,-1.5l-1,4l4.5,1.5z" fill="#000"/>
<!-- leader lines -->
<path class="t" d="M344,299.7H457.7M342,313.3H438.6"/>
<!-- neck rings -->
<path class="l" stroke-width="0.7" d="M397.4,306.4H423.7M398,309.3H423M399.7,311H422M397.4,306.4L399.7,314M423.7,306.4L421.4,314"/>
<!-- housing -->
<path fill="url(#hatch)" stroke="#222" stroke-width="0.6" d="M381,313.3L392.3,313.3L392.3,318C389,325 389,334 392,340L398,348L403,351.5H418L423,348L429,340C432,334 432,325 429,318L429,313.3L440,313.3L440,323.6L444.3,326L444.3,333.3L438.6,333.3L438.6,358.4L437.4,358.4L437.4,361.3L427.1,361.3L427.1,363.6L394.6,363.6L394.6,361.3L384.3,361.3L384.3,358.4L383.7,358.4L383.7,333.3L376.9,333.3L376.9,326L381,323.6Z"/>
<!-- ball -->
<path fill="#fff" stroke="#000" stroke-width="2" d="M399.5,314A19.5,19.5 0 1 0 421.8,314"/>
<path d="M402,349.2H419L417.5,352H403.5Z" fill="#000"/>
<path class="t" d="M397.4,300L410.6,329.5L423.7,300M410.6,314V372" stroke-width="0.6"/>
<path class="t" d="M378,329.3H471" stroke-dasharray="8,1.5,1.5,1.5"/>
<path class="t" d="M444.3,330.2H471"/>
<path class="t" d="M392.9,318.7L472.9,367.1"/>
<!-- dims right -->
<path class="t" d="M457.7,244.3V299.5M470.8,275.2V330.2"/>
<path d="M457.7,244.3l-1,3.5h2zM457.7,275.2l-1,-3.5h2zM457.7,275.2l-1,3.5h2zM457.7,299.5l-1,-3.5h2zM470.8,275.2l-1,3.5h2zM470.8,330.2l-1,-3.5h2z" fill="#222"/>
<g font-size="5.6" text-anchor="middle">
<text transform="translate(456.5,258.2) rotate(-90)">27.2±1</text>
<text transform="translate(456.5,287.5) rotate(-90)">20.8±0.2</text>
<text transform="translate(469.5,301.7) rotate(-90)">47.8±0.5</text>
</g>
<!-- left leaders text -->
<use href="#tri" transform="translate(340,295.5) scale(1.05)"/>
<text x="345" y="295" font-size="7.2" textLength="26" lengthAdjust="spacingAndGlyphs" stroke="#111" stroke-width="0.15">Ø20-0.05</text>
<use href="#saf" transform="translate(339.5,308.5) scale(1.05)"/>
<text x="345" y="310.8" font-size="7.2" textLength="26" lengthAdjust="spacingAndGlyphs" stroke="#111" stroke-width="0.15">Ø20+0.2</text>
<!-- SØ35 -->
<use href="#saf" transform="translate(445.4,343.6) scale(1.05)"/>
<g transform="translate(448.6,348.6) rotate(31)">
<text x="0" y="0" font-size="6" textLength="16" lengthAdjust="spacingAndGlyphs" stroke="#111" stroke-width="0.15">S Ø35</text>
<text x="16.8" y="-2.4" font-size="4.2" textLength="10" lengthAdjust="spacingAndGlyphs">+0.02</text><text x="15.8" y="2.2" font-size="4.2" textLength="10" lengthAdjust="spacingAndGlyphs">-0.05</text>
</g>
<text x="390.8" y="387" font-size="7.1" textLength="50.3" lengthAdjust="spacingAndGlyphs" stroke="#111" stroke-width="0.1">SECTION A-A</text>
<text x="390.8" y="396.5" font-size="7.1" textLength="38.3" lengthAdjust="spacingAndGlyphs" stroke="#111" stroke-width="0.1">SCALE 2/1</text>
</g>
<!-- RIGHT VIEW -->
<g id="rview">
<!-- axes -->
<path class="t" d="M513.2,208.6H660M564.3,172V245M586.2,176V440M563.9,176H586"/>
<path class="t" d="M519.4,303.5H586M521.7,303.5V418M519,418.4H660M656.6,208.6V417.7"/>
<path d="M521.7,303.5l-1,3.5h2zM521.7,418.4l-1,-3.5h2zM656.6,208.6l-1,3.5h2zM656.6,417.7l-1,-3.5h2z" fill="#222"/>
<text transform="translate(520.2,362) rotate(-90)" font-size="6.8" text-anchor="middle" textLength="30" lengthAdjust="spacingAndGlyphs">200.5±2.5</text>
<g transform="translate(654.3,325.5) rotate(-90)">
<use href="#tri" transform="translate(-5.1,0) scale(1.05)"/>
<text x="0" y="0" font-size="5.4" font-weight="bold" textLength="20.6" lengthAdjust="spacingAndGlyphs">388.5±2.5</text>
</g>
<!-- labels top -->
<rect x="548.9" y="167.1" width="11.8" height="8.6" class="l" stroke-width="0.7"/>
<text x="554.8" y="174.2" font-size="7" font-weight="bold" text-anchor="middle">36</text>
<rect x="591.1" y="158.1" width="28.5" height="7.3" class="l" stroke-width="0.7"/>
<text x="593.6" y="163.9" font-size="5.2" font-weight="bold" textLength="23.5" lengthAdjust="spacingAndGlyphs">POINT C</text>
<circle cx="586" cy="176.1" r="3.3" fill="#fff" stroke="#000" stroke-width="0.7"/>
<path d="M586,176.1V172.8A3.3,3.3 0 0 1 589.3,176.1ZM586,176.1V179.4A3.3,3.3 0 0 1 582.7,176.1Z" fill="#000"/>
<path class="t" d="M589,174L593,165.4"/>
<g class="l" stroke-width="0.6">
<circle cx="517.9" cy="163.3" r="6.6"/><path d="M520,169.6L530,201"/>
<circle cx="504.4" cy="191.8" r="6.8"/><path d="M511.5,193.6L528.6,199.3"/>
<circle cx="607.4" cy="182.6" r="6.6"/><path d="M601,185L580,193.5"/>
</g>
<g font-size="6" text-anchor="middle"><text x="518" y="165.5">3</text><text x="504.5" y="194">4</text><text x="607.5" y="184.8">5</text></g>
<!-- section arrows -->
<path class="t" d="M516.3,209.5V222.5M594,209.5V222.5"/>
<path d="M516.3,209.3l-1,3.2h2zM594,209.3l-1,3.2h2z" fill="#111"/>
<text x="513" y="223.5" font-size="5">A</text><text x="594.5" y="223.5" font-size="5">A</text>
<path d="M597,202.6h7v-1.5l3.5,2.5l-3.5,2.5v-1.5h-7z" fill="#000"/>
<path class="l" stroke-width="0.6" d="M612,196.8l-2.2,3.8h4.4z"/>
<text x="609.5" y="206.2" font-size="4.4">R</text>
<!-- nut & stud -->
<path d="M521.1,203.6h3v9.5h-3z" fill="#000"/>
<path class="l" stroke-width="0.8" d="M524,202.9h7.5a2,2 0 0 1 2,2v9.5a2,2 0 0 1 -2,2h-7.5M526.5,205.5h3M526.5,212h3"/>
<path class="l" stroke-width="0.8" d="M527.9,200V221.4"/>
<path d="M533.8,203.2h3v11h-3z" fill="#222"/>
<path class="l" stroke-width="0.8" d="M536.8,203.6H548.9V213.8H536.8"/>
<path d="M548.9,203.6h6.5v10.2h-6.5z" fill="#555"/>
<path class="l" stroke-width="0.6" d="M552.3,203.6V213.8"/>
<!-- boot C -->
<path class="l" stroke-width="1.6" d="M555.5,194.1C549,192.5 544,196 542.4,200.6M542.4,216.8C544,221 549,224 555.7,223.7"/>
<path class="l" stroke-width="0.6" d="M542.4,200.6L540.8,201.8M542.4,216.8L540.8,215.6"/>
<!-- housing -->
<path fill="#000" d="M555.7,194C558,191.5 562,190.3 566,190.3L576.3,191.1L579.7,197.1L580.1,220.3L576.3,224.6L566,226.3C561,226 558,224.5 555.7,222Z"/>
<circle cx="565.1" cy="208.7" r="7.7" fill="#fff"/>
<path class="t" d="M557,208.7H573.5M565.1,201V216.5" stroke="#999"/>
<ellipse cx="571.1" cy="192.6" rx="4.8" ry="2.6" fill="url(#hatch)" stroke="#000" stroke-width="0.5"/>
<ellipse cx="570.6" cy="226.6" rx="5" ry="3.6" fill="url(#hatch)" stroke="#000" stroke-width="0.5"/>
<!-- neck -->
<path class="l" stroke-width="0.7" d="M566,227L537,245M567.5,228.3L540,245.8M574.6,230.6L562,249M572.5,229L560.5,247.6"/>
<path class="l" stroke-width="0.7" d="M537,252.8V246L541,243.5L547,242.2H553L558,243L562,246V251M543,243v8.5M550,242.2v9M556,242.8v8.2"/>
<!-- cap -->
<path d="M537.5,253.2L566.3,251.8L567.3,258.2L537.2,260.3C535.3,260.4 534.6,259.4 534.7,257.9L535,255C535.2,253.9 536,253.3 537.5,253.2Z" fill="#000"/>
<!-- arm outlines -->
<path class="l" stroke-width="0.8" d="M535,259.8C536,268 538,278 540,288C541,296 542,304 544.3,315C546,322 548,327 550.3,332.3C552,338 553,346 553.7,352.9C554.2,360 554.5,366 554.9,370C556,374 558,377 560,381.4C562,386 563,390 563.4,395.1L565.5,410"/>
<path class="l" stroke-width="0.6" d="M540.9,306.6C543,313 545,317 546.9,322C549,328 551.5,335 552.6,341C553.5,346 556,349 557.1,351C557.7,358 557.7,362 557.7,364.3C558.5,369 559,372 560,375.7C561.5,382 562.5,387 562.9,392.9"/>
<path class="l" stroke-width="0.8" d="M566,257L568,270L570,272"/>
<path class="l" stroke-width="0.8" d="M588.5,339C591,335 592,333 593.7,330C595,334 597,338 597.1,341.4C598.5,347 599.5,351 599.4,355.1C599,359 598,361 597.1,362C595,363 593.5,363.5 592.6,364.3M596,365.4C594.5,370 593.5,375 593.7,379.1C594,384 594.2,387 594.9,389.4C596.5,391.5 598,393 599.4,395.1C601,398 602,401 602.3,404.3"/>
<path class="t" d="M586.9,354H597.7M573,273L585,292L594,300L595,318"/>
<!-- thick black lines -->
<path fill="none" stroke="#000" stroke-width="4.3" d="M552.2,258C553,270 553.5,280 554.5,292C555.3,302 556.2,312 558.5,320C561,327 563,331 566,335C568.5,340 570,344 571,347.1C572.8,353 574,358 575.4,364.3C577,370 578.5,376 580,381.4C581.5,387 582.5,393 583.4,399"/>
<path fill="none" stroke="#000" stroke-width="3.4" d="M569.8,272C571,276 571.5,280 571,283C570.5,287 568.5,291 567.6,295C567,300 567,305 567.3,309C568,312 570,313 572,314.5C575,316 578,317.5 580,319C583,321 585.5,324 587,327.5C588,330.5 588.8,334 589,338"/>
<!-- bushings circles -->
<g class="l" stroke-width="0.6">
<circle cx="585" cy="303.5" r="4"/><circle cx="590" cy="319.5" r="3"/>
<path d="M579,313L595,289.5H624.5M594,323L604,331.5H624.5M581,310L589,297M586.5,324L593.5,315"/>
<path d="M593,301L604,298M594.5,319L605,316M603,298L604.5,316"/>
</g>
<text transform="translate(607.5,307.5) rotate(80)" font-size="5" text-anchor="middle">20±0.5</text>
<text x="596.6" y="287.7" font-size="6.8">Ø14.2</text>
<text x="614.6" y="282" font-size="3.6">+0.5</text><text x="614.6" y="287.7" font-size="3.6">-0.2</text>
<text x="606" y="329.7" font-size="6.8">Ø8</text>
<text x="614.3" y="324.2" font-size="3.6">+0.5</text><text x="614.3" y="329.9" font-size="3.6">-0.2</text>
<text x="598.3" y="345.1" font-size="6">16°±2.5°</text>
<path class="t" d="M578.6,269.7H613.7"/>
<path d="M586.2,269.7l-3.5,-1v2z" fill="#222"/>
<text x="595" y="267.1" font-size="6">1±2.5</text>
<!-- t labels -->
<circle cx="553.3" cy="386.5" r="3.7" fill="#fff" stroke="#000" stroke-width="1"/>
<path d="M550.8,385l2.5,4l2.5,-4z" fill="#000"/><path stroke="#000" stroke-width="0.9" d="M555.8,383.8l1.8,-1.8"/>
<text x="528" y="387" font-size="5.6" textLength="18.4" lengthAdjust="spacingAndGlyphs">t=3±0.2</text>
<path class="t" d="M538,389L567,396.3"/>
<circle cx="609" cy="368" r="3.7" fill="#fff" stroke="#000" stroke-width="1"/>
<path d="M606.5,366.5l2.5,4l2.5,-4z" fill="#000"/><path stroke="#000" stroke-width="0.9" d="M611.5,365.3l1.8,-1.8"/>
<text x="613" y="367.6" font-size="5.6" textLength="20" lengthAdjust="spacingAndGlyphs">t=4±0.2</text>
<path class="t" d="M594.9,389.4L610,373L623,371"/>
<!-- bottom bushing -->
<g fill="none">
<circle cx="586.1" cy="419.4" r="21.6" stroke="#111" stroke-width="0.7"/>
<circle cx="586.1" cy="419.4" r="19.9" stroke="#111" stroke-width="0.7"/>
<circle cx="586.1" cy="418" r="16.2" stroke="#000" stroke-width="3.4"/>
<circle cx="586.1" cy="418.3" r="13.1" stroke="#111" stroke-width="0.7"/>
<circle cx="586.1" cy="418.3" r="12.1" stroke="#111" stroke-width="0.6"/>
<circle cx="586.1" cy="418.3" r="9.3" stroke="#000" stroke-width="1.3" stroke-dasharray="0.9,0.75"/>
<circle cx="586.1" cy="418.3" r="7.5" stroke="#111" stroke-width="0.5"/>
<circle cx="586.1" cy="418.3" r="6.2" stroke="#000" stroke-width="1.3"/>
</g>
<circle cx="586.1" cy="418.3" r="5" fill="#3a3a3a"/>
<circle cx="587.6" cy="417" r="1" fill="#fff"/><circle cx="584.7" cy="419.9" r="1" fill="#fff"/>
</g>
</svg>
</body></html>
